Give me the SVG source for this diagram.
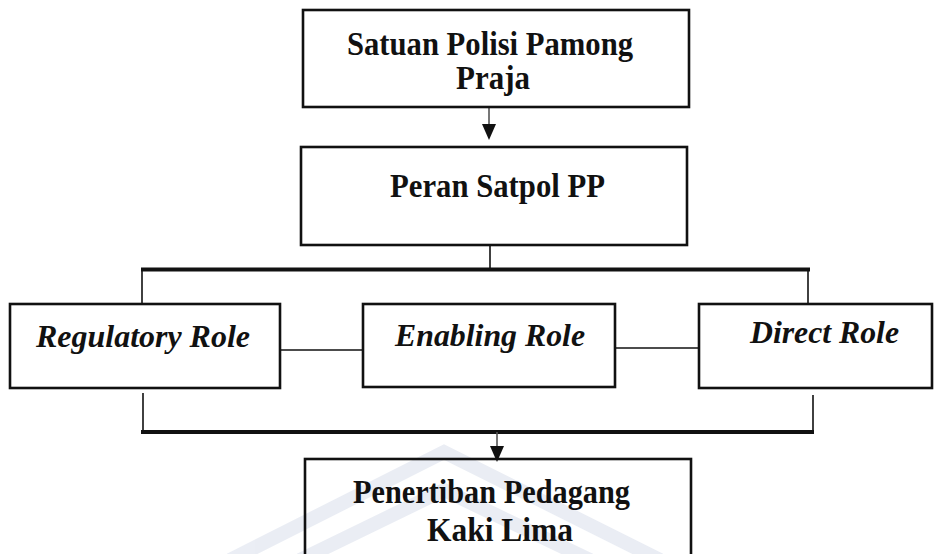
<svg xmlns="http://www.w3.org/2000/svg" width="940" height="554" viewBox="0 0 940 554">
<style>
.box{fill:#fff;stroke:#111;stroke-width:2.6}
.t{font-family:"Liberation Serif","Times New Roman",serif;font-weight:bold;font-size:34px;fill:#111;text-anchor:middle}
.ti{font-family:"Liberation Serif","Times New Roman",serif;font-weight:bold;font-style:italic;font-size:32px;fill:#111;text-anchor:middle}
.thin{stroke:#111;stroke-width:1.6;fill:none}
.bar{stroke:#111;stroke-width:4;fill:none}
.arr{stroke:#555;stroke-width:1.6;fill:none}
.head{fill:#111}
.wm{fill:none;stroke:#e4e8f1;stroke-width:14;stroke-linejoin:miter}
</style>
<rect width="940" height="554" fill="#fff"/>
<g id="watermark" opacity="0.75">
  <polyline class="wm" points="230,560 444,452 660,560"/>
  <polyline class="wm" points="300,560 444,490 590,560"/>
</g>
<g id="connectors">
  <line class="arr" x1="489" y1="107" x2="489" y2="126"/>
  <polygon class="head" points="482,124 496,124 489,140"/>
  <line class="thin" x1="490" y1="245" x2="490" y2="268"/>
  <line class="bar" x1="141" y1="269.5" x2="810" y2="269.5"/>
  <line class="thin" x1="142" y1="269" x2="142" y2="304"/>
  <line class="thin" x1="808" y1="269" x2="808" y2="304"/>
  <line class="thin" x1="280" y1="350" x2="363" y2="350"/>
  <line class="thin" x1="615" y1="348" x2="699" y2="348"/>
  <line class="thin" x1="143" y1="393" x2="143" y2="430"/>
  <line class="thin" x1="813" y1="395" x2="813" y2="430"/>
  <line class="bar" x1="141" y1="432" x2="814" y2="432"/>
  <line class="arr" x1="497" y1="432" x2="497" y2="448"/>
  <polygon class="head" points="490,446 504,446 497,462"/>
</g>
<g id="satpol">
  <rect class="box" x="303" y="10" width="386" height="97"/>
  <text class="t" x="490" y="55" font-size="32" textLength="286" lengthAdjust="spacingAndGlyphs">Satuan Polisi Pamong</text>
  <text class="t" x="493" y="89" font-size="32" textLength="74" lengthAdjust="spacingAndGlyphs">Praja</text>
</g>
<g id="peran">
  <rect class="box" x="301" y="147" width="386" height="98"/>
  <text class="t" x="497.5" y="197" font-size="32" textLength="215" lengthAdjust="spacingAndGlyphs">Peran Satpol PP</text>
</g>
<g id="regulatory">
  <rect class="box" x="10" y="304" width="270" height="84"/>
  <text class="ti" x="143" y="347" textLength="214" lengthAdjust="spacingAndGlyphs">Regulatory Role</text>
</g>
<g id="enabling">
  <rect class="box" x="363" y="304" width="252" height="83"/>
  <text class="ti" x="490" y="346" textLength="190" lengthAdjust="spacingAndGlyphs">Enabling Role</text>
</g>
<g id="direct">
  <rect class="box" x="699" y="304" width="233" height="84"/>
  <text class="ti" x="824.5" y="343" textLength="149" lengthAdjust="spacingAndGlyphs">Direct Role</text>
</g>
<g id="penertiban">
  <rect x="305" y="459" width="386" height="110" fill="none" stroke="#111" stroke-width="2.6"/>
  <text class="t" x="491.5" y="503" font-size="32" textLength="277" lengthAdjust="spacingAndGlyphs">Penertiban Pedagang</text>
  <text class="t" x="500" y="541" font-size="32" textLength="146" lengthAdjust="spacingAndGlyphs">Kaki Lima</text>
</g>
</svg>
